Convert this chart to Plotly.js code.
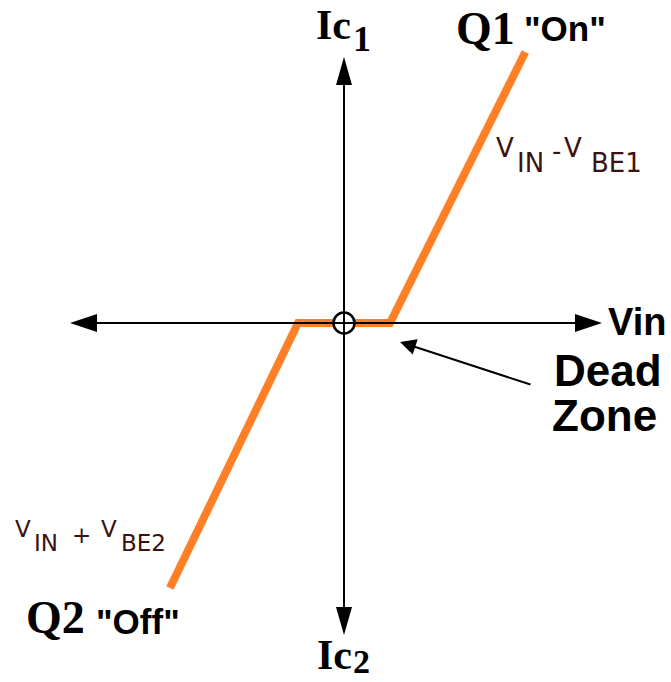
<!DOCTYPE html>
<html>
<head>
<meta charset="utf-8">
<script src="https://cdn.plot.ly/plotly-3.0.1.min.js"></script>
<style>
html,body{margin:0;padding:0;background:#fff;}
#chart{width:671px;height:682px;}
</style>
</head>
<body>
<div id="chart"></div>
<script>
// ---- data (transfer characteristic of a class-B push-pull stage) ----
const vin = [-2.65, -0.70, 0.70, 2.76];   // input voltage (V)
const ic  = [-2.65, 0.00, 0.00, 2.71];    // collector current (Ic1 positive, Ic2 negative)
const originX = [0];
const originY = [0];

// ---- geometry helpers (canvas pixels -> data units) ----
const W = 671, H = 682, OX = 344, OY = 323, SX = 65.7, SY = 100;
const X = px => (px - OX) / SX;
const Y = py => (OY - py) / SY;

// axis arrows (decoration)
const axisStroke = 2;
function tri(tip, base, half, horizontal) {
  if (horizontal) {
    return `M ${X(tip)} ${Y(OY)} L ${X(base)} ${Y(OY - half)} L ${X(base)} ${Y(OY + half)} Z`;
  }
  return `M ${X(OX)} ${Y(tip)} L ${X(OX - half)} ${Y(base)} L ${X(OX + half)} ${Y(base)} Z`;
}
const shapes = [
  {type:'line', xref:'x', yref:'y', x0:X(80), y0:0, x1:X(592), y1:0, line:{color:'#000', width:axisStroke}},
  {type:'line', xref:'x', yref:'y', x0:0, y0:Y(66), x1:0, y1:Y(626), line:{color:'#000', width:axisStroke}},
  {type:'path', xref:'x', yref:'y', path:tri(70, 97, 9, true), fillcolor:'#000', line:{width:0}},
  {type:'path', xref:'x', yref:'y', path:tri(602, 575, 9, true), fillcolor:'#000', line:{width:0}},
  {type:'path', xref:'x', yref:'y', path:tri(57, 85, 8, false), fillcolor:'#000', line:{width:0}},
  {type:'path', xref:'x', yref:'y', path:tri(635, 607, 8, false), fillcolor:'#000', line:{width:0}}
];

const serifB = (s) => ({family:'Liberation Serif, serif', size:s, color:'#000', weight:'bold'});
const sansB  = (s) => ({family:'Liberation Sans, Arial, sans-serif', size:s, color:'#000', weight:'bold'});
const lab    = (s) => ({family:'DejaVu Sans, Verdana, sans-serif', size:s, color:'#3a1212'});

function txt(text, left, cy, font) {
  return {text:text, x:X(left), y:Y(cy), xref:'x', yref:'y', xanchor:'left', yanchor:'middle',
          showarrow:false, font:font, borderpad:0};
}

const annotations = [
  txt('Ic', 315, 25, serifB(42)),
  txt('1', 352, 39, serifB(36)),
  txt('Ic', 316, 655, serifB(42)),
  txt('2', 352, 661, serifB(34)),
  txt('Q1', 455, 28, serifB(46)),
  txt('"On"', 523, 28, sansB(35)),
  txt('Q2', 25, 617, serifB(46)),
  txt('"Off"', 95, 621, sansB(35)),
  txt('Vin', 607, 322, sansB(38)),
  txt('Dead', 553, 370, sansB(44)),
  txt('Zone', 551, 415, sansB(44)),
  // V_IN - V_BE1
  txt('V', 495, 148, lab(26)),
  txt('IN', 516, 163, lab(26)),
  txt('-', 551, 151, lab(26)),
  txt('V', 563, 148, lab(26)),
  txt('BE1', 590, 163, lab(26)),
  // V_IN + V_BE2
  txt('V', 14, 529, lab(23)),
  txt('IN', 33, 543, lab(23)),
  txt('+', 71, 535, lab(23)),
  txt('V', 100, 529, lab(23)),
  txt('BE2', 120, 543, lab(23)),
  // dead zone pointer
  {text:'', x:X(400), y:Y(342), ax:X(532), ay:Y(385), xref:'x', yref:'y', axref:'x', ayref:'y',
   showarrow:true, arrowhead:2, arrowsize:1.6, arrowwidth:2, arrowcolor:'#000'}
];

const traces = [
  {x: vin, y: ic, type:'scatter', mode:'lines',
   line:{color:'#ff7f27', width:8}, hoverinfo:'skip'},
  {x: originX, y: originY, type:'scatter', mode:'markers',
   marker:{size:21, color:'#fff', line:{color:'#000', width:2.5}}, hoverinfo:'skip'}
];

const layout = {
  width: W, height: H,
  margin:{l:0, r:0, t:0, b:0},
  paper_bgcolor:'#fff', plot_bgcolor:'#fff',
  showlegend:false,
  xaxis:{range:[X(0), X(W)], visible:false, fixedrange:true},
  yaxis:{range:[Y(H), Y(0)], visible:false, fixedrange:true},
  shapes: shapes,
  annotations: annotations
};

Plotly.newPlot('chart', traces, layout, {staticPlot:true, displayModeBar:false});
</script>
</body>
</html>
